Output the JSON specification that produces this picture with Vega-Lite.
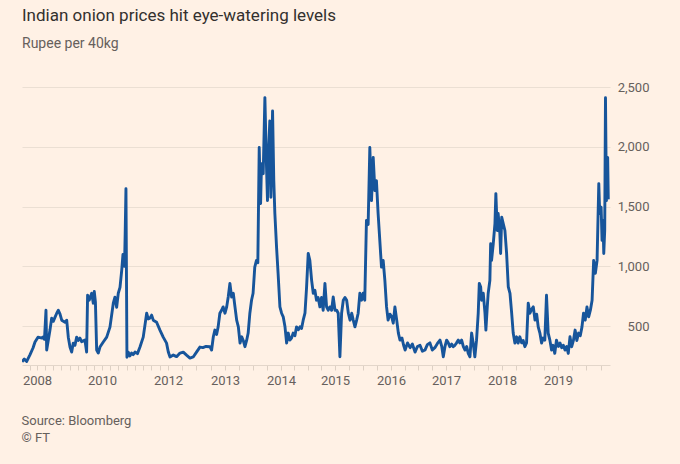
{
  "$schema": "https://vega.github.io/schema/vega-lite/v6.json",
  "width": 588,
  "height": 278,
  "autosize": {"type": "none"},
  "padding": {"left": 22, "top": 87, "right": 70, "bottom": 99},
  "background": "#fff1e5",
  "config": {
    "view": {"stroke": null},
    "font": "Roboto"
  },
  "title": {
    "text": "Indian onion prices hit eye-watering levels",
    "subtitle": "Rupee per 40kg",
    "anchor": "start",
    "frame": "group",
    "offset": 29,
    "font": "Roboto",
    "fontSize": 17,
    "fontWeight": "normal",
    "color": "#33302e",
    "subtitleFont": "Roboto",
    "subtitleFontSize": 14,
    "subtitleColor": "#66605c",
    "subtitlePadding": 12
  },
  "data": {
    "values": [
      {"date": "2007-06-20", "price": 202},
      {"date": "2007-07-20", "price": 225},
      {"date": "2007-08-20", "price": 205},
      {"date": "2007-10-01", "price": 260},
      {"date": "2007-11-10", "price": 317},
      {"date": "2007-12-06", "price": 367},
      {"date": "2008-01-12", "price": 408},
      {"date": "2008-02-26", "price": 400},
      {"date": "2008-03-08", "price": 408},
      {"date": "2008-03-25", "price": 390},
      {"date": "2008-04-11", "price": 633},
      {"date": "2008-04-19", "price": 300},
      {"date": "2008-05-26", "price": 467},
      {"date": "2008-06-14", "price": 567},
      {"date": "2008-07-02", "price": 540},
      {"date": "2008-07-22", "price": 575},
      {"date": "2008-08-10", "price": 608},
      {"date": "2008-08-28", "price": 633},
      {"date": "2008-09-16", "price": 600},
      {"date": "2008-10-05", "price": 550},
      {"date": "2008-11-11", "price": 533},
      {"date": "2008-11-30", "price": 550},
      {"date": "2008-12-18", "price": 408},
      {"date": "2009-01-06", "price": 325},
      {"date": "2009-01-25", "price": 283},
      {"date": "2009-02-12", "price": 358},
      {"date": "2009-03-03", "price": 340},
      {"date": "2009-03-22", "price": 408},
      {"date": "2009-04-09", "price": 380},
      {"date": "2009-04-28", "price": 400},
      {"date": "2009-05-17", "price": 370},
      {"date": "2009-06-23", "price": 383},
      {"date": "2009-07-12", "price": 283},
      {"date": "2009-07-23", "price": 758},
      {"date": "2009-08-10", "price": 717},
      {"date": "2009-09-07", "price": 775},
      {"date": "2009-09-25", "price": 692},
      {"date": "2009-10-06", "price": 790},
      {"date": "2009-10-19", "price": 700},
      {"date": "2009-11-02", "price": 300},
      {"date": "2009-11-20", "price": 275},
      {"date": "2009-12-09", "price": 325},
      {"date": "2010-01-15", "price": 367},
      {"date": "2010-02-22", "price": 408},
      {"date": "2010-03-30", "price": 492},
      {"date": "2010-05-06", "price": 692},
      {"date": "2010-05-24", "price": 742},
      {"date": "2010-06-12", "price": 658},
      {"date": "2010-06-30", "price": 775},
      {"date": "2010-07-19", "price": 825},
      {"date": "2010-08-07", "price": 967},
      {"date": "2010-08-21", "price": 1100},
      {"date": "2010-09-07", "price": 1000},
      {"date": "2010-09-15", "price": 1300},
      {"date": "2010-09-23", "price": 1650},
      {"date": "2010-09-28", "price": 1000},
      {"date": "2010-10-04", "price": 240},
      {"date": "2010-10-18", "price": 283},
      {"date": "2010-11-05", "price": 250},
      {"date": "2010-11-24", "price": 275},
      {"date": "2010-12-12", "price": 262},
      {"date": "2011-01-01", "price": 283},
      {"date": "2011-01-28", "price": 270},
      {"date": "2011-02-25", "price": 325},
      {"date": "2011-04-02", "price": 408},
      {"date": "2011-05-10", "price": 608},
      {"date": "2011-05-27", "price": 560},
      {"date": "2011-06-15", "price": 567},
      {"date": "2011-07-04", "price": 592},
      {"date": "2011-07-22", "price": 550},
      {"date": "2011-08-28", "price": 533},
      {"date": "2011-10-04", "price": 467},
      {"date": "2011-11-09", "price": 408},
      {"date": "2011-12-16", "price": 358},
      {"date": "2012-01-03", "price": 283},
      {"date": "2012-01-14", "price": 242},
      {"date": "2012-02-04", "price": 258},
      {"date": "2012-02-25", "price": 245},
      {"date": "2012-03-18", "price": 275},
      {"date": "2012-04-08", "price": 283},
      {"date": "2012-04-29", "price": 258},
      {"date": "2012-05-21", "price": 233},
      {"date": "2012-06-11", "price": 242},
      {"date": "2012-07-02", "price": 283},
      {"date": "2012-07-24", "price": 325},
      {"date": "2012-08-12", "price": 320},
      {"date": "2012-09-01", "price": 330},
      {"date": "2012-09-26", "price": 328},
      {"date": "2012-10-07", "price": 300},
      {"date": "2012-10-18", "price": 411},
      {"date": "2012-10-28", "price": 467},
      {"date": "2012-11-08", "price": 430},
      {"date": "2012-11-18", "price": 494},
      {"date": "2012-11-29", "price": 608},
      {"date": "2012-12-10", "price": 633},
      {"date": "2012-12-20", "price": 661},
      {"date": "2013-01-01", "price": 608},
      {"date": "2013-01-12", "price": 661},
      {"date": "2013-01-22", "price": 744},
      {"date": "2013-02-02", "price": 858},
      {"date": "2013-02-13", "price": 744},
      {"date": "2013-02-24", "price": 775},
      {"date": "2013-03-07", "price": 661},
      {"date": "2013-03-18", "price": 550},
      {"date": "2013-03-29", "price": 494},
      {"date": "2013-04-09", "price": 358},
      {"date": "2013-04-20", "price": 411},
      {"date": "2013-04-30", "price": 380},
      {"date": "2013-05-11", "price": 328},
      {"date": "2013-05-22", "price": 380},
      {"date": "2013-06-01", "price": 442},
      {"date": "2013-06-12", "price": 608},
      {"date": "2013-06-23", "price": 717},
      {"date": "2013-07-03", "price": 775},
      {"date": "2013-07-14", "price": 994},
      {"date": "2013-07-25", "price": 1050},
      {"date": "2013-08-03", "price": 1030},
      {"date": "2013-08-12", "price": 1994},
      {"date": "2013-08-21", "price": 1525},
      {"date": "2013-08-27", "price": 1858},
      {"date": "2013-09-07", "price": 1775},
      {"date": "2013-09-18", "price": 2411},
      {"date": "2013-09-28", "price": 1858},
      {"date": "2013-10-05", "price": 1550},
      {"date": "2013-10-09", "price": 1858},
      {"date": "2013-10-20", "price": 2217},
      {"date": "2013-10-27", "price": 1578},
      {"date": "2013-11-07", "price": 2300},
      {"date": "2013-11-15", "price": 1717},
      {"date": "2013-11-22", "price": 1442},
      {"date": "2013-12-03", "price": 1161},
      {"date": "2013-12-13", "price": 942},
      {"date": "2013-12-25", "price": 661},
      {"date": "2014-01-05", "price": 608},
      {"date": "2014-01-16", "price": 578},
      {"date": "2014-01-28", "price": 494},
      {"date": "2014-02-08", "price": 358},
      {"date": "2014-02-19", "price": 442},
      {"date": "2014-03-02", "price": 383},
      {"date": "2014-03-13", "price": 400},
      {"date": "2014-03-24", "price": 442},
      {"date": "2014-04-05", "price": 420},
      {"date": "2014-04-16", "price": 494},
      {"date": "2014-04-28", "price": 470},
      {"date": "2014-05-09", "price": 494},
      {"date": "2014-05-20", "price": 480},
      {"date": "2014-05-31", "price": 550},
      {"date": "2014-06-12", "price": 608},
      {"date": "2014-06-23", "price": 828},
      {"date": "2014-07-04", "price": 1108},
      {"date": "2014-07-15", "price": 1050},
      {"date": "2014-07-27", "price": 883},
      {"date": "2014-08-07", "price": 775},
      {"date": "2014-08-18", "price": 800},
      {"date": "2014-08-29", "price": 717},
      {"date": "2014-09-09", "price": 740},
      {"date": "2014-09-21", "price": 661},
      {"date": "2014-10-02", "price": 740},
      {"date": "2014-10-13", "price": 633},
      {"date": "2014-10-25", "price": 858},
      {"date": "2014-11-05", "price": 661},
      {"date": "2014-11-16", "price": 633},
      {"date": "2014-11-27", "price": 661},
      {"date": "2014-12-09", "price": 633},
      {"date": "2014-12-20", "price": 744},
      {"date": "2015-01-01", "price": 633},
      {"date": "2015-01-12", "price": 633},
      {"date": "2015-01-22", "price": 608},
      {"date": "2015-02-02", "price": 244},
      {"date": "2015-02-13", "price": 608},
      {"date": "2015-02-24", "price": 717},
      {"date": "2015-03-07", "price": 740},
      {"date": "2015-03-18", "price": 717},
      {"date": "2015-03-29", "price": 608},
      {"date": "2015-04-09", "price": 550},
      {"date": "2015-04-20", "price": 608},
      {"date": "2015-04-30", "price": 550},
      {"date": "2015-05-11", "price": 494},
      {"date": "2015-05-22", "price": 550},
      {"date": "2015-06-01", "price": 608},
      {"date": "2015-06-12", "price": 775},
      {"date": "2015-06-23", "price": 717},
      {"date": "2015-07-03", "price": 775},
      {"date": "2015-07-14", "price": 717},
      {"date": "2015-07-25", "price": 1383},
      {"date": "2015-08-05", "price": 1350},
      {"date": "2015-08-16", "price": 1994},
      {"date": "2015-08-27", "price": 1550},
      {"date": "2015-09-07", "price": 1911},
      {"date": "2015-09-18", "price": 1633},
      {"date": "2015-09-28", "price": 1717},
      {"date": "2015-10-09", "price": 1442},
      {"date": "2015-10-20", "price": 1217},
      {"date": "2015-10-31", "price": 994},
      {"date": "2015-11-11", "price": 1050},
      {"date": "2015-11-22", "price": 883},
      {"date": "2015-12-03", "price": 661},
      {"date": "2015-12-13", "price": 550},
      {"date": "2015-12-25", "price": 600},
      {"date": "2016-01-05", "price": 580},
      {"date": "2016-01-16", "price": 525},
      {"date": "2016-01-27", "price": 661},
      {"date": "2016-02-08", "price": 550},
      {"date": "2016-02-19", "price": 442},
      {"date": "2016-03-01", "price": 383},
      {"date": "2016-03-14", "price": 400},
      {"date": "2016-03-25", "price": 340},
      {"date": "2016-04-04", "price": 300},
      {"date": "2016-04-20", "price": 360},
      {"date": "2016-05-07", "price": 320},
      {"date": "2016-05-22", "price": 350},
      {"date": "2016-06-09", "price": 283},
      {"date": "2016-06-25", "price": 330},
      {"date": "2016-07-12", "price": 340},
      {"date": "2016-07-28", "price": 290},
      {"date": "2016-08-14", "price": 300},
      {"date": "2016-08-30", "price": 345},
      {"date": "2016-09-16", "price": 360},
      {"date": "2016-10-02", "price": 300},
      {"date": "2016-10-19", "price": 320},
      {"date": "2016-11-05", "price": 355},
      {"date": "2016-11-22", "price": 383},
      {"date": "2016-12-04", "price": 328},
      {"date": "2016-12-14", "price": 244},
      {"date": "2016-12-25", "price": 328},
      {"date": "2017-01-05", "price": 383},
      {"date": "2017-01-16", "price": 360},
      {"date": "2017-01-26", "price": 328},
      {"date": "2017-02-07", "price": 350},
      {"date": "2017-02-17", "price": 328},
      {"date": "2017-02-28", "price": 340},
      {"date": "2017-03-11", "price": 360},
      {"date": "2017-03-22", "price": 383},
      {"date": "2017-04-02", "price": 360},
      {"date": "2017-04-13", "price": 383},
      {"date": "2017-04-24", "price": 328},
      {"date": "2017-05-05", "price": 300},
      {"date": "2017-05-16", "price": 330},
      {"date": "2017-05-26", "price": 272},
      {"date": "2017-06-06", "price": 244},
      {"date": "2017-06-17", "price": 442},
      {"date": "2017-06-28", "price": 350},
      {"date": "2017-07-08", "price": 244},
      {"date": "2017-07-19", "price": 383},
      {"date": "2017-07-30", "price": 608},
      {"date": "2017-08-06", "price": 858},
      {"date": "2017-08-15", "price": 828},
      {"date": "2017-08-21", "price": 717},
      {"date": "2017-09-01", "price": 775},
      {"date": "2017-09-12", "price": 608},
      {"date": "2017-09-18", "price": 467},
      {"date": "2017-09-27", "price": 661},
      {"date": "2017-10-03", "price": 775},
      {"date": "2017-10-14", "price": 883},
      {"date": "2017-10-19", "price": 1189},
      {"date": "2017-10-25", "price": 1050},
      {"date": "2017-11-05", "price": 1189},
      {"date": "2017-11-16", "price": 1358},
      {"date": "2017-11-22", "price": 1608},
      {"date": "2017-12-01", "price": 1300},
      {"date": "2017-12-07", "price": 1442},
      {"date": "2017-12-18", "price": 1275},
      {"date": "2017-12-23", "price": 1108},
      {"date": "2017-12-30", "price": 1411},
      {"date": "2018-01-09", "price": 1358},
      {"date": "2018-01-20", "price": 1300},
      {"date": "2018-01-31", "price": 1108},
      {"date": "2018-02-11", "price": 828},
      {"date": "2018-02-22", "price": 775},
      {"date": "2018-03-05", "price": 608},
      {"date": "2018-03-15", "price": 442},
      {"date": "2018-03-26", "price": 358},
      {"date": "2018-04-06", "price": 411},
      {"date": "2018-04-16", "price": 358},
      {"date": "2018-04-27", "price": 411},
      {"date": "2018-05-09", "price": 360},
      {"date": "2018-05-19", "price": 380},
      {"date": "2018-05-30", "price": 328},
      {"date": "2018-06-10", "price": 360},
      {"date": "2018-06-21", "price": 692},
      {"date": "2018-07-02", "price": 608},
      {"date": "2018-07-13", "price": 640},
      {"date": "2018-07-24", "price": 661},
      {"date": "2018-08-04", "price": 550},
      {"date": "2018-08-15", "price": 600},
      {"date": "2018-08-25", "price": 494},
      {"date": "2018-09-05", "price": 442},
      {"date": "2018-09-16", "price": 358},
      {"date": "2018-09-26", "price": 400},
      {"date": "2018-10-07", "price": 383},
      {"date": "2018-10-18", "price": 758},
      {"date": "2018-10-29", "price": 442},
      {"date": "2018-11-09", "price": 383},
      {"date": "2018-11-20", "price": 300},
      {"date": "2018-11-30", "price": 340},
      {"date": "2018-12-11", "price": 272},
      {"date": "2018-12-22", "price": 383},
      {"date": "2019-01-03", "price": 330},
      {"date": "2019-01-14", "price": 358},
      {"date": "2019-01-25", "price": 320},
      {"date": "2019-02-04", "price": 340},
      {"date": "2019-02-15", "price": 300},
      {"date": "2019-02-26", "price": 330},
      {"date": "2019-03-08", "price": 272},
      {"date": "2019-03-19", "price": 411},
      {"date": "2019-03-30", "price": 328},
      {"date": "2019-04-10", "price": 380},
      {"date": "2019-04-21", "price": 467},
      {"date": "2019-05-02", "price": 380},
      {"date": "2019-05-13", "price": 442},
      {"date": "2019-05-24", "price": 420},
      {"date": "2019-06-04", "price": 494},
      {"date": "2019-06-14", "price": 608},
      {"date": "2019-06-25", "price": 550},
      {"date": "2019-07-06", "price": 661},
      {"date": "2019-07-17", "price": 578},
      {"date": "2019-07-28", "price": 633},
      {"date": "2019-08-08", "price": 717},
      {"date": "2019-08-18", "price": 1050},
      {"date": "2019-08-29", "price": 942},
      {"date": "2019-09-09", "price": 1050},
      {"date": "2019-09-20", "price": 1692},
      {"date": "2019-09-26", "price": 1442},
      {"date": "2019-10-05", "price": 1494},
      {"date": "2019-10-11", "price": 1217},
      {"date": "2019-10-17", "price": 1383},
      {"date": "2019-10-22", "price": 1108},
      {"date": "2019-10-28", "price": 1300},
      {"date": "2019-11-02", "price": 2411},
      {"date": "2019-11-08", "price": 1550},
      {"date": "2019-11-16", "price": 1911},
      {"date": "2019-11-20", "price": 1560}
    ]
  },
  "mark": {"type": "line", "color": "#17559b", "strokeWidth": 2.9, "strokeJoin": "round", "clip": true},
  "encoding": {
    "x": {
      "field": "date",
      "type": "temporal",
      "scale": {
        "nice": false,
        "domain": {"expr": "[1182297600000, 1199145600000, 1262304000000, 1325376000000, 1356998400000, 1388534400000, 1420070400000, 1451606400000, 1483228800000, 1514764800000, 1546300800000, 1575158400000]"},
        "range": [0, 15, 80, 146, 203, 259, 313, 369, 424, 480, 536, 588]
      },
      "axis": {
        "title": ["Source: Bloomberg", "© FT"],
        "titleAnchor": "start",
        "titleAlign": "left",
        "titleX": -1,
        "titleY": 59,
        "titleBaseline": "alphabetic",
        "titleFont": "Roboto",
        "titleFontSize": 13,
        "titleFontWeight": "normal",
        "titleColor": "#66605c",
        "titleLineHeight": 17,
        "values": [
          {"year": 2007, "month": 10, "date": 1},
          {"year": 2008, "month": 1, "date": 1}, {"year": 2008, "month": 4, "date": 1}, {"year": 2008, "month": 7, "date": 1}, {"year": 2008, "month": 10, "date": 1},
          {"year": 2009, "month": 1, "date": 1}, {"year": 2009, "month": 4, "date": 1}, {"year": 2009, "month": 7, "date": 1}, {"year": 2009, "month": 10, "date": 1},
          {"year": 2010, "month": 1, "date": 1}, {"year": 2010, "month": 4, "date": 1}, {"year": 2010, "month": 7, "date": 1}, {"year": 2010, "month": 10, "date": 1},
          {"year": 2011, "month": 1, "date": 1}, {"year": 2011, "month": 4, "date": 1}, {"year": 2011, "month": 7, "date": 1}, {"year": 2011, "month": 10, "date": 1},
          {"year": 2012, "month": 1, "date": 1}, {"year": 2012, "month": 4, "date": 1}, {"year": 2012, "month": 7, "date": 1}, {"year": 2012, "month": 10, "date": 1},
          {"year": 2013, "month": 1, "date": 1}, {"year": 2013, "month": 4, "date": 1}, {"year": 2013, "month": 7, "date": 1}, {"year": 2013, "month": 10, "date": 1},
          {"year": 2014, "month": 1, "date": 1}, {"year": 2014, "month": 4, "date": 1}, {"year": 2014, "month": 7, "date": 1}, {"year": 2014, "month": 10, "date": 1},
          {"year": 2015, "month": 1, "date": 1}, {"year": 2015, "month": 4, "date": 1}, {"year": 2015, "month": 7, "date": 1}, {"year": 2015, "month": 10, "date": 1},
          {"year": 2016, "month": 1, "date": 1}, {"year": 2016, "month": 4, "date": 1}, {"year": 2016, "month": 7, "date": 1}, {"year": 2016, "month": 10, "date": 1},
          {"year": 2017, "month": 1, "date": 1}, {"year": 2017, "month": 4, "date": 1}, {"year": 2017, "month": 7, "date": 1}, {"year": 2017, "month": 10, "date": 1},
          {"year": 2018, "month": 1, "date": 1}, {"year": 2018, "month": 4, "date": 1}, {"year": 2018, "month": 7, "date": 1}, {"year": 2018, "month": 10, "date": 1},
          {"year": 2019, "month": 1, "date": 1}, {"year": 2019, "month": 4, "date": 1}, {"year": 2019, "month": 7, "date": 1}, {"year": 2019, "month": 10, "date": 1}
        ],
        "labelExpr": "month(datum.value) == 0 && year(datum.value) != 2009 && year(datum.value) != 2011 ? timeFormat(datum.value, '%Y') : ''",
        "labelOverlap": false,
        "labelFont": "Roboto",
        "labelFontSize": 13,
        "labelColor": "#66605c",
        "labelPadding": 4,
        "tickSize": 5,
        "tickColor": "#ddd0c4",
        "domainColor": "#e3d6ca",
        "grid": false
      }
    },
    "y": {
      "field": "price",
      "type": "quantitative",
      "scale": {"domain": [175, 2500], "nice": false, "zero": false},
      "axis": {
        "orient": "right",
        "title": null,
        "values": [500, 1000, 1500, 2000, 2500],
        "format": ",.0f",
        "labelAlign": "right",
        "labelPadding": 39,
        "labelFont": "Roboto",
        "labelFontSize": 13,
        "labelColor": "#66605c",
        "tickSize": 0,
        "domain": false,
        "grid": true,
        "gridColor": "#ebdfd3",
        "gridWidth": 1
      }
    }
  }
}
